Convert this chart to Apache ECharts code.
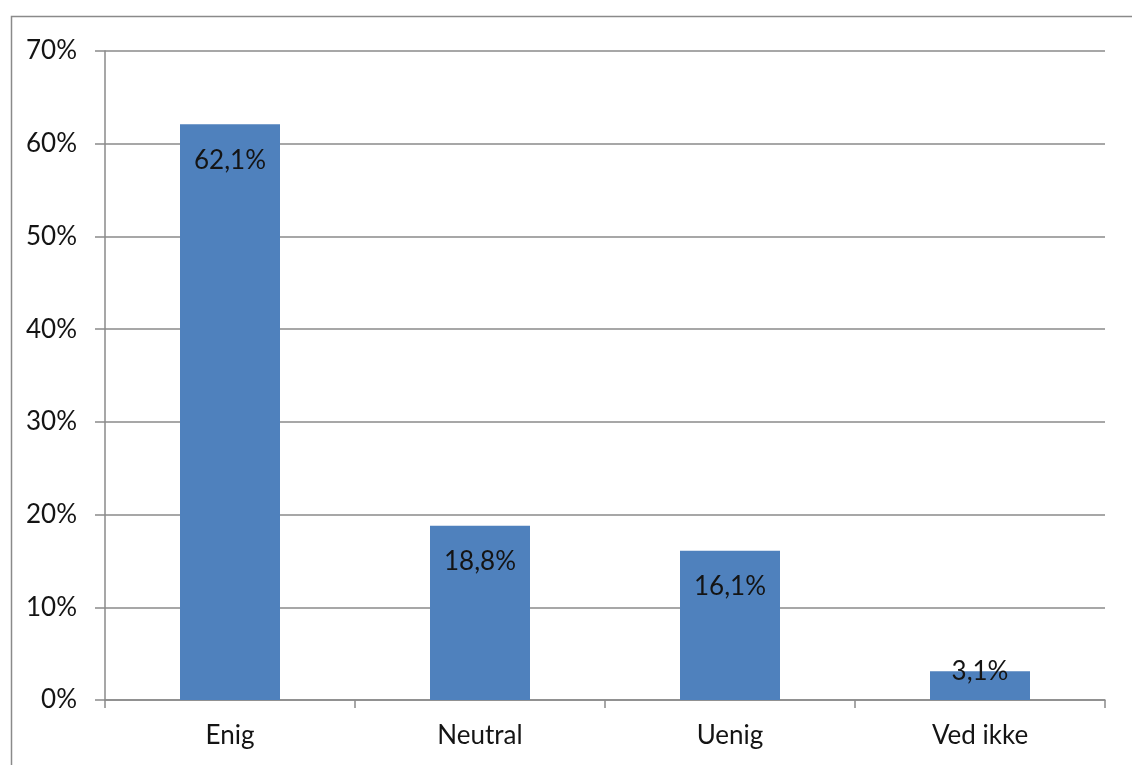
<!DOCTYPE html>
<html>
<head>
<meta charset="utf-8">
<script src="https://cdn.jsdelivr.net/npm/echarts@6/dist/echarts.min.js"></script>
<style>
  html, body { margin: 0; padding: 0; background: #fff; }
  #chart { width: 1132px; height: 765px; }
</style>
</head>
<body>
<div id="chart"></div>
<script>
// Survey answers and their shares (percent)
const categories = ['Enig', 'Neutral', 'Uenig', 'Ved ikke'];
const shares = [62.1, 18.8, 16.1, 3.1];
const yTicks = [0, 10, 20, 30, 40, 50, 60, 70];

const FONT = 'Lato';
const TEXT = '#141414';
const LINE = '#8a8a8a';
const BAR = '#4f81bd';

const chart = echarts.init(document.getElementById('chart'), null, { renderer: 'canvas' });

const barData = shares.map(function (v) {
  const item = { value: v };
  // a bar too short to hold its label gets it straddling its top edge
  if (v < 8) {
    item.label = { position: 'top', distance: -13 };
  }
  return item;
});

chart.setOption({
  animation: false,
  backgroundColor: '#fff',
  graphic: [{
    type: 'rect',
    left: 9, top: 14,
    shape: { width: 1140, height: 770 },
    style: { fill: 'none', stroke: LINE, lineWidth: 1.5 },
    silent: true
  }],
  grid: { left: 105, right: 27, top: 51, bottom: 65, containLabel: false },
  xAxis: {
    type: 'category',
    data: categories,
    boundaryGap: true,
    axisLine: { lineStyle: { color: LINE, width: 1.5 } },
    axisTick: { show: true, length: 8, alignWithLabel: false, lineStyle: { color: LINE, width: 1.5 } },
    axisLabel: { margin: 23, color: TEXT, fontFamily: FONT, fontSize: 26 }
  },
  yAxis: {
    type: 'value',
    min: yTicks[0],
    max: yTicks[yTicks.length - 1],
    interval: 10,
    axisLine: { show: true, lineStyle: { color: LINE, width: 1.5 } },
    axisTick: { show: true, length: 10, lineStyle: { color: LINE, width: 1.5 } },
    splitLine: { show: true, lineStyle: { color: LINE, width: 1.5 } },
    axisLabel: {
      margin: 28, color: TEXT, fontFamily: FONT, fontSize: 26,
      formatter: function (v) { return v + '%'; }
    }
  },
  series: [{
    type: 'bar',
    data: barData,
    barWidth: '40%',
    itemStyle: { color: BAR },
    label: {
      show: true,
      position: 'insideTop',
      distance: 23,
      color: TEXT,
      fontFamily: FONT,
      fontSize: 26,
      lineHeight: 26,
      formatter: function (p) { return p.value.toFixed(1).replace('.', ',') + '%'; }
    }
  }]
});
</script>
</body>
</html>
